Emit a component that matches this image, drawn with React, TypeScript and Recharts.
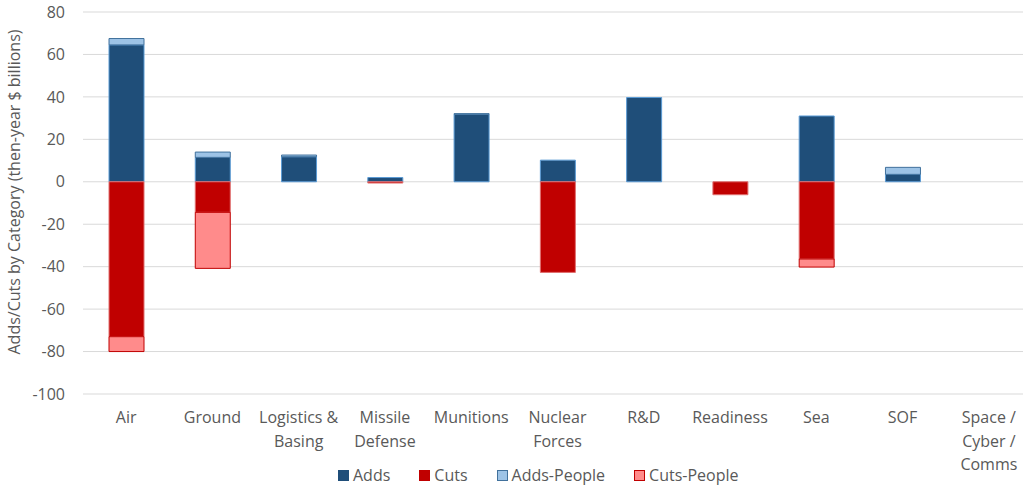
import { Bar, BarChart, CartesianGrid, Legend, XAxis, YAxis } from "recharts";

const categories = [
  "Air",
  "Ground",
  "Logistics & Basing",
  "Missile Defense",
  "Munitions",
  "Nuclear Forces",
  "R&D",
  "Readiness",
  "Sea",
  "SOF",
  "Space / Cyber / Comms",
];

// wrapped tick labels, as drawn under the axis
const tickLines: Record<string, string[]> = {
  Air: ["Air"],
  Ground: ["Ground"],
  "Logistics & Basing": ["Logistics &", "Basing"],
  "Missile Defense": ["Missile", "Defense"],
  Munitions: ["Munitions"],
  "Nuclear Forces": ["Nuclear", "Forces"],
  "R&D": ["R&D"],
  Readiness: ["Readiness"],
  Sea: ["Sea"],
  SOF: ["SOF"],
  "Space / Cyber / Comms": ["Space /", "Cyber /", "Comms"],
};

const adds = [64.5, 11.5, 11.8, 2, 31.8, 10.2, 39.7, 0, 31, 3.5, 0];
const cuts = [-73, -14.4, 0, -0.6, 0, -42.7, 0, -6.1, -36.4, 0, 0];
const addsPeople = [3, 2.5, 0.8, 0, 0.3, 0, 0, 0, 0, 3.3, 0];
const cutsPeople = [-7, -26.4, 0, 0, 0, 0, 0, 0, -3.8, 0, 0];

const yTicks = [-100, -80, -60, -40, -20, 0, 20, 40, 60, 80];

const FONT = "'Open Sans', sans-serif";
const TEXT = "#595959";

const legendItems = [
  { label: "Adds", fill: "#1F4E79", stroke: "#1F4E79" },
  { label: "Cuts", fill: "#C00000", stroke: "#C00000" },
  { label: "Adds-People", fill: "#9DC3E6", stroke: "#41719C" },
  { label: "Cuts-People", fill: "#FF8B8B", stroke: "#C00000" },
];

function CategoryTick(props: any) {
  const { x, y, payload } = props;
  const lines = tickLines[payload.value] ?? [payload.value];
  return (
    <text x={x} y={y} textAnchor="middle" fill={TEXT} fontSize={16} fontFamily={FONT}>
      {lines.map((l, i) => (
        <tspan key={i} x={x} dy={i === 0 ? 21 : 23.5}>
          {l}
        </tspan>
      ))}
    </text>
  );
}

function LegendBox() {
  return (
    <div
      style={{
        height: 30,
        boxSizing: "border-box",
        paddingBottom: 2,
        display: "flex",
        alignItems: "center",
        paddingLeft: 338,
        fontFamily: FONT,
        fontSize: 16,
        color: TEXT,
      }}
    >
      {legendItems.map((it) => (
        <div key={it.label} style={{ display: "flex", alignItems: "center", marginRight: 29 }}>
          <span
            style={{
              width: 9,
              height: 9,
              background: it.fill,
              border: `1px solid ${it.stroke}`,
              marginRight: 4,
              display: "inline-block",
            }}
          />
          {it.label}
        </div>
      ))}
    </div>
  );
}

export default function App() {
  const data = categories.map((c, i) => ({
    name: c,
    adds: adds[i],
    cuts: cuts[i],
    addsPeople: addsPeople[i],
    cutsPeople: cutsPeople[i],
  }));

  return (
    <div
      style={{
        position: "absolute",
        left: 0,
        top: 0,
        width: 1023,
        height: 491,
        overflow: "hidden",
        background: "#fff",
      }}
    >
      <BarChart
        width={1040}
        height={491}
        data={data}
        stackOffset="sign"
        barSize={35}
        margin={{ top: 12, right: 8, bottom: 0, left: 0 }}
      >
        <CartesianGrid vertical={false} stroke="#D9D9D9" strokeWidth={1} />
        <XAxis
          dataKey="name"
          axisLine={false}
          tickLine={false}
          interval={0}
          height={67}
          tick={<CategoryTick />}
        />
        <YAxis
          width={83}
          domain={[-100, 80]}
          ticks={yTicks}
          axisLine={false}
          tickLine={false}
          tickMargin={12}
          tick={{ fill: TEXT, fontSize: 16, fontFamily: FONT }}
          label={{
            content: () => (
              <text
                x={14}
                y={192}
                transform="rotate(-90 14 192)"
                textAnchor="middle"
                dominantBaseline="central"
                fill={TEXT}
                fontSize={16}
                fontFamily={FONT}
              >
                Adds/Cuts by Category (then-year $ billions)
              </text>
            ),
          }}
        />
        <Legend verticalAlign="bottom" content={<LegendBox />} />
        <Bar dataKey="adds" name="Adds" stackId="s" fill="#1F4E79" stroke="#5B9BD5" strokeWidth={1} isAnimationActive={false} />
        <Bar dataKey="cuts" name="Cuts" stackId="s" fill="#C00000" stroke="#E07070" strokeWidth={1} isAnimationActive={false} />
        <Bar dataKey="addsPeople" name="Adds-People" stackId="s" fill="#9DC3E6" stroke="#41719C" strokeWidth={1} isAnimationActive={false} />
        <Bar dataKey="cutsPeople" name="Cuts-People" stackId="s" fill="#FF8B8B" stroke="#C00000" strokeWidth={1} isAnimationActive={false} />
      </BarChart>
    </div>
  );
}
